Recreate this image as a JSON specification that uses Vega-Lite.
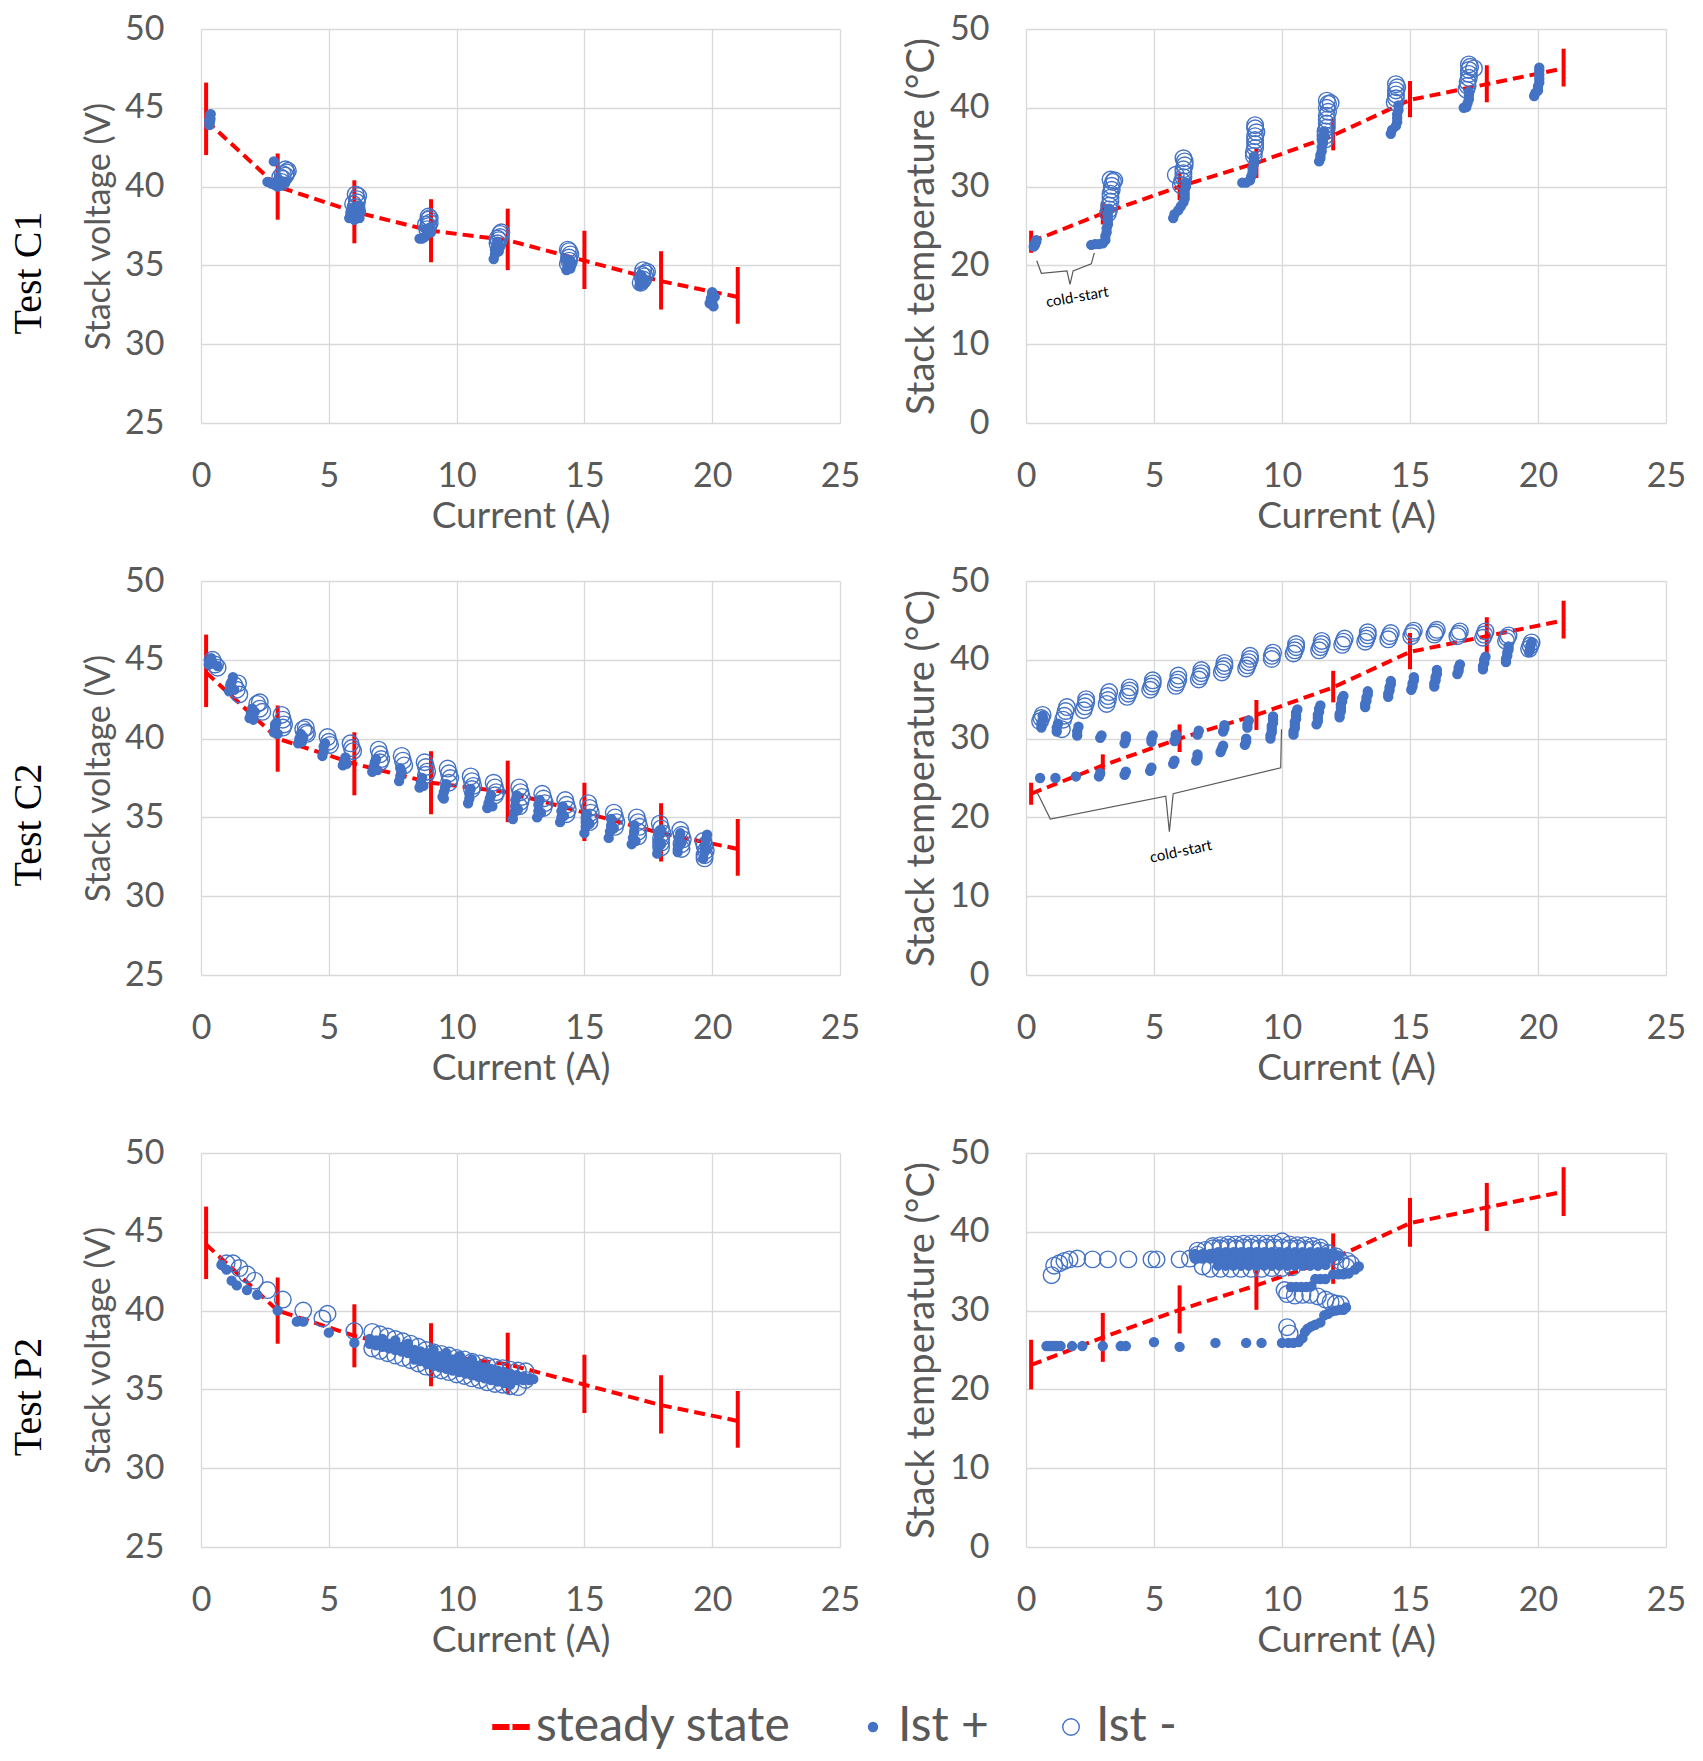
{
  "$schema": "https://vega.github.io/schema/vega-lite/v6.json",
  "background": "#ffffff",
  "padding": {"left": 8, "top": 12, "right": 10, "bottom": 8},
  "datasets": {
    "ssv": [
      {"i": 0.2, "v": 44.2, "lo": 42.0, "hi": 46.6},
      {"i": 3, "v": 40.0, "lo": 37.9, "hi": 42.1},
      {"i": 6, "v": 38.4, "lo": 36.4, "hi": 40.4},
      {"i": 9, "v": 37.2, "lo": 35.2, "hi": 39.2},
      {"i": 12, "v": 36.6, "lo": 34.7, "hi": 38.6},
      {"i": 15, "v": 35.3, "lo": 33.5, "hi": 37.2},
      {"i": 18, "v": 34.0, "lo": 32.2, "hi": 35.9},
      {"i": 21, "v": 33.0, "lo": 31.3, "hi": 34.9}
    ],
    "sst": [
      {"i": 0.2, "v": 23.0, "lo": 21.6, "hi": 24.4},
      {"i": 3, "v": 26.6, "lo": 25.2, "hi": 28.0},
      {"i": 6, "v": 30.0, "lo": 28.3, "hi": 31.8},
      {"i": 9, "v": 33.0, "lo": 31.1, "hi": 34.9},
      {"i": 12, "v": 36.5, "lo": 34.6, "hi": 38.6},
      {"i": 15, "v": 41.0, "lo": 38.8, "hi": 43.4},
      {"i": 18, "v": 43.0, "lo": 40.7, "hi": 45.4},
      {"i": 21, "v": 45.0, "lo": 42.7, "hi": 47.5}
    ],
    "sstp": [
      {"i": 0.2, "v": 23.1, "lo": 20.0, "hi": 26.3},
      {"i": 3, "v": 26.6, "lo": 23.5, "hi": 29.7},
      {"i": 6, "v": 30.1, "lo": 27.1, "hi": 33.2},
      {"i": 9, "v": 33.2, "lo": 30.1, "hi": 36.6},
      {"i": 12, "v": 36.6, "lo": 33.4, "hi": 39.8},
      {"i": 15, "v": 41.1, "lo": 38.1, "hi": 44.3},
      {"i": 18, "v": 43.1, "lo": 40.1, "hi": 46.2},
      {"i": 21, "v": 45.1, "lo": 42.0, "hi": 48.2}
    ],
    "brace1": [
      {"k": 1, "i": 0.42, "v": 20.6},
      {"k": 2, "i": 0.6, "v": 19.0},
      {"k": 3, "i": 1.6, "v": 19.3},
      {"k": 4, "i": 1.72, "v": 17.6},
      {"k": 5, "i": 1.84, "v": 19.3},
      {"k": 6, "i": 2.55, "v": 20.2},
      {"k": 7, "i": 2.67, "v": 21.6}
    ],
    "brace2": [
      {"k": 1, "i": 0.42, "v": 23.3},
      {"k": 2, "i": 0.95, "v": 19.8},
      {"k": 3, "i": 5.46, "v": 22.7},
      {"k": 4, "i": 5.6, "v": 18.2},
      {"k": 5, "i": 5.75, "v": 23.0},
      {"k": 6, "i": 9.95, "v": 26.3},
      {"k": 7, "i": 9.98, "v": 31.2}
    ],
    "note1": [{"i": 2.0, "v": 16.0, "t": "cold-start"}],
    "note2": [{"i": 6.05, "v": 15.7, "t": "cold-start"}],
    "c1v": [
      {"s":"Ist -","i":3.15,"v":40.3},{"s":"Ist -","i":3.2,"v":40.5},{"s":"Ist -","i":3.3,"v":40.7},{"s":"Ist -","i":3.35,"v":40.9},{"s":"Ist -","i":3.4,"v":41.0},{"s":"Ist -","i":3.3,"v":41.1},{"s":"Ist -","i":3.2,"v":40.8},{"s":"Ist -","i":3.1,"v":40.6},
      {"s":"Ist -","i":6.0,"v":38.4},{"s":"Ist -","i":6.05,"v":38.7},{"s":"Ist -","i":6.1,"v":39.0},{"s":"Ist -","i":6.1,"v":39.2},{"s":"Ist -","i":6.15,"v":39.4},{"s":"Ist -","i":6.05,"v":39.5},{"s":"Ist -","i":5.95,"v":38.9},{"s":"Ist -","i":6.1,"v":38.5},
      {"s":"Ist -","i":8.85,"v":37.3},{"s":"Ist -","i":8.9,"v":37.5},{"s":"Ist -","i":8.95,"v":37.7},{"s":"Ist -","i":8.9,"v":37.9},{"s":"Ist -","i":8.95,"v":38.0},{"s":"Ist -","i":8.9,"v":38.1},{"s":"Ist -","i":8.8,"v":37.6},
      {"s":"Ist -","i":11.6,"v":36.4},{"s":"Ist -","i":11.65,"v":36.6},{"s":"Ist -","i":11.7,"v":36.8},{"s":"Ist -","i":11.7,"v":37.0},{"s":"Ist -","i":11.75,"v":37.1},{"s":"Ist -","i":11.6,"v":36.7},
      {"s":"Ist -","i":14.35,"v":35.1},{"s":"Ist -","i":14.4,"v":35.3},{"s":"Ist -","i":14.4,"v":35.5},{"s":"Ist -","i":14.45,"v":35.7},{"s":"Ist -","i":14.4,"v":35.9},{"s":"Ist -","i":14.35,"v":36.0},
      {"s":"Ist -","i":17.2,"v":33.9},{"s":"Ist -","i":17.3,"v":34.1},{"s":"Ist -","i":17.35,"v":34.3},{"s":"Ist -","i":17.4,"v":34.5},{"s":"Ist -","i":17.3,"v":34.7},{"s":"Ist -","i":17.45,"v":34.6},{"s":"Ist -","i":17.25,"v":34.4},
      {"s":"Ist +","i":0.33,"v":43.9},{"s":"Ist +","i":0.35,"v":44.1},{"s":"Ist +","i":0.37,"v":44.3},{"s":"Ist +","i":0.35,"v":44.5},{"s":"Ist +","i":0.38,"v":44.6},{"s":"Ist +","i":0.32,"v":44.2},
      {"s":"Ist +","i":2.6,"v":40.3},{"s":"Ist +","i":2.75,"v":40.2},{"s":"Ist +","i":2.9,"v":40.1},{"s":"Ist +","i":3.0,"v":40.0},{"s":"Ist +","i":3.1,"v":40.1},{"s":"Ist +","i":3.2,"v":40.2},{"s":"Ist +","i":3.3,"v":40.3},{"s":"Ist +","i":3.0,"v":40.4},{"s":"Ist +","i":2.85,"v":41.6},
      {"s":"Ist +","i":5.8,"v":38.0},{"s":"Ist +","i":5.85,"v":38.3},{"s":"Ist +","i":5.9,"v":38.6},{"s":"Ist +","i":6.0,"v":37.9},{"s":"Ist +","i":6.05,"v":38.2},{"s":"Ist +","i":6.1,"v":38.5},{"s":"Ist +","i":6.15,"v":38.8},{"s":"Ist +","i":6.2,"v":38.0},{"s":"Ist +","i":6.25,"v":38.4},
      {"s":"Ist +","i":8.55,"v":36.7},{"s":"Ist +","i":8.65,"v":36.7},{"s":"Ist +","i":8.75,"v":36.8},{"s":"Ist +","i":8.85,"v":37.0},{"s":"Ist +","i":8.9,"v":37.2},{"s":"Ist +","i":8.95,"v":37.4},{"s":"Ist +","i":8.8,"v":37.3},{"s":"Ist +","i":9.0,"v":37.1},
      {"s":"Ist +","i":11.45,"v":35.4},{"s":"Ist +","i":11.5,"v":35.7},{"s":"Ist +","i":11.5,"v":36.0},{"s":"Ist +","i":11.55,"v":36.3},{"s":"Ist +","i":11.6,"v":36.5},{"s":"Ist +","i":11.65,"v":35.9},{"s":"Ist +","i":11.7,"v":36.2},
      {"s":"Ist +","i":14.3,"v":34.7},{"s":"Ist +","i":14.35,"v":35.0},{"s":"Ist +","i":14.4,"v":35.3},{"s":"Ist +","i":14.45,"v":34.8},{"s":"Ist +","i":14.5,"v":35.1},{"s":"Ist +","i":14.3,"v":35.4},
      {"s":"Ist +","i":17.15,"v":33.7},{"s":"Ist +","i":17.2,"v":34.0},{"s":"Ist +","i":17.25,"v":34.3},{"s":"Ist +","i":17.3,"v":33.8},{"s":"Ist +","i":17.35,"v":34.1},{"s":"Ist +","i":17.2,"v":34.4},
      {"s":"Ist +","i":19.9,"v":32.6},{"s":"Ist +","i":19.95,"v":32.9},{"s":"Ist +","i":20.0,"v":33.2},{"s":"Ist +","i":20.05,"v":32.4},{"s":"Ist +","i":20.0,"v":32.7},{"s":"Ist +","i":20.1,"v":33.0},{"s":"Ist +","i":20.0,"v":33.3}
    ],
    "c1t": [
      {"s":"Ist -","i":3.2,"v":26.6},{"s":"Ist -","i":3.25,"v":27.1},{"s":"Ist -","i":3.25,"v":27.6},{"s":"Ist -","i":3.3,"v":28.1},{"s":"Ist -","i":3.3,"v":28.6},{"s":"Ist -","i":3.3,"v":29.1},{"s":"Ist -","i":3.35,"v":29.6},{"s":"Ist -","i":3.35,"v":30.1},{"s":"Ist -","i":3.4,"v":30.6},{"s":"Ist -","i":3.3,"v":30.9},{"s":"Ist -","i":3.45,"v":30.8},
      {"s":"Ist -","i":6.05,"v":30.2},{"s":"Ist -","i":6.1,"v":30.7},{"s":"Ist -","i":6.15,"v":31.2},{"s":"Ist -","i":6.15,"v":31.7},{"s":"Ist -","i":6.15,"v":32.2},{"s":"Ist -","i":6.2,"v":32.7},{"s":"Ist -","i":6.2,"v":33.2},{"s":"Ist -","i":6.15,"v":33.6},{"s":"Ist -","i":5.85,"v":31.5},
      {"s":"Ist -","i":8.9,"v":33.9},{"s":"Ist -","i":8.9,"v":34.4},{"s":"Ist -","i":8.95,"v":34.9},{"s":"Ist -","i":8.95,"v":35.4},{"s":"Ist -","i":8.95,"v":35.9},{"s":"Ist -","i":8.95,"v":36.4},{"s":"Ist -","i":9.0,"v":36.9},{"s":"Ist -","i":8.95,"v":37.4},{"s":"Ist -","i":8.95,"v":37.8},
      {"s":"Ist -","i":11.7,"v":36.0},{"s":"Ist -","i":11.7,"v":36.5},{"s":"Ist -","i":11.7,"v":37.0},{"s":"Ist -","i":11.75,"v":37.5},{"s":"Ist -","i":11.75,"v":38.0},{"s":"Ist -","i":11.75,"v":38.5},{"s":"Ist -","i":11.75,"v":39.0},{"s":"Ist -","i":11.8,"v":39.5},{"s":"Ist -","i":11.75,"v":40.0},{"s":"Ist -","i":11.8,"v":40.5},{"s":"Ist -","i":11.9,"v":40.6},{"s":"Ist -","i":11.75,"v":40.9},
      {"s":"Ist -","i":14.4,"v":40.7},{"s":"Ist -","i":14.45,"v":41.2},{"s":"Ist -","i":14.45,"v":41.7},{"s":"Ist -","i":14.45,"v":42.2},{"s":"Ist -","i":14.5,"v":42.6},{"s":"Ist -","i":14.45,"v":43.0},
      {"s":"Ist -","i":17.2,"v":42.3},{"s":"Ist -","i":17.25,"v":42.8},{"s":"Ist -","i":17.25,"v":43.3},{"s":"Ist -","i":17.3,"v":43.8},{"s":"Ist -","i":17.3,"v":44.3},{"s":"Ist -","i":17.3,"v":44.8},{"s":"Ist -","i":17.35,"v":45.2},{"s":"Ist -","i":17.5,"v":45.0},{"s":"Ist -","i":17.3,"v":45.5},
      {"s":"Ist +","i":0.3,"v":22.4},{"s":"Ist +","i":0.35,"v":22.8},{"s":"Ist +","i":0.4,"v":23.2},{"s":"Ist +","i":0.35,"v":22.6},{"s":"Ist +","i":0.4,"v":23.0},
      {"s":"Ist +","i":2.55,"v":22.6},{"s":"Ist +","i":2.7,"v":22.7},{"s":"Ist +","i":2.85,"v":22.7},{"s":"Ist +","i":3.0,"v":22.8},{"s":"Ist +","i":3.1,"v":23.2},
      {"s":"Ist +","i":3.1,"v":23.7},{"s":"Ist +","i":3.15,"v":24.2},{"s":"Ist +","i":3.15,"v":24.7},{"s":"Ist +","i":3.2,"v":25.2},{"s":"Ist +","i":3.2,"v":25.7},{"s":"Ist +","i":3.2,"v":26.2},{"s":"Ist +","i":3.2,"v":26.7},{"s":"Ist +","i":3.25,"v":27.2},
      {"s":"Ist +","i":5.75,"v":26.0},{"s":"Ist +","i":5.8,"v":26.5},{"s":"Ist +","i":5.95,"v":27.0},{"s":"Ist +","i":6.05,"v":27.5},{"s":"Ist +","i":6.15,"v":28.0},{"s":"Ist +","i":6.2,"v":28.5},{"s":"Ist +","i":6.2,"v":29.0},{"s":"Ist +","i":6.2,"v":29.5},{"s":"Ist +","i":6.25,"v":30.0},{"s":"Ist +","i":6.25,"v":30.5},
      {"s":"Ist +","i":8.45,"v":30.5},{"s":"Ist +","i":8.6,"v":30.5},{"s":"Ist +","i":8.75,"v":30.8},{"s":"Ist +","i":8.8,"v":31.3},{"s":"Ist +","i":8.85,"v":31.8},{"s":"Ist +","i":8.85,"v":32.3},{"s":"Ist +","i":8.9,"v":32.8},{"s":"Ist +","i":8.9,"v":33.3},{"s":"Ist +","i":8.9,"v":33.8},
      {"s":"Ist +","i":11.45,"v":33.2},{"s":"Ist +","i":11.5,"v":33.6},{"s":"Ist +","i":11.5,"v":34.0},{"s":"Ist +","i":11.55,"v":34.5},{"s":"Ist +","i":11.55,"v":35.0},{"s":"Ist +","i":11.6,"v":35.5},{"s":"Ist +","i":11.6,"v":36.0},{"s":"Ist +","i":11.65,"v":36.5},{"s":"Ist +","i":11.65,"v":37.0},
      {"s":"Ist +","i":14.25,"v":36.7},{"s":"Ist +","i":14.3,"v":37.2},{"s":"Ist +","i":14.45,"v":37.7},{"s":"Ist +","i":14.5,"v":38.2},{"s":"Ist +","i":14.5,"v":38.7},{"s":"Ist +","i":14.5,"v":39.2},{"s":"Ist +","i":14.55,"v":39.7},{"s":"Ist +","i":14.55,"v":40.3},
      {"s":"Ist +","i":17.1,"v":40.0},{"s":"Ist +","i":17.2,"v":40.1},{"s":"Ist +","i":17.25,"v":40.6},{"s":"Ist +","i":17.3,"v":41.1},{"s":"Ist +","i":17.3,"v":41.6},{"s":"Ist +","i":17.3,"v":42.0},
      {"s":"Ist +","i":19.85,"v":41.5},{"s":"Ist +","i":19.9,"v":41.9},{"s":"Ist +","i":20.0,"v":42.2},{"s":"Ist +","i":20.0,"v":42.7},{"s":"Ist +","i":20.05,"v":43.2},{"s":"Ist +","i":20.05,"v":43.7},{"s":"Ist +","i":20.05,"v":44.2},{"s":"Ist +","i":20.05,"v":44.7},{"s":"Ist +","i":20.05,"v":45.1}
    ],
    "c2v": [
      {"s":"Ist -","i":0.45,"v":45.0},{"s":"Ist -","i":0.55,"v":44.7},{"s":"Ist -","i":0.65,"v":44.5},
      {"s":"Ist -","i":1.3,"v":43.4},{"s":"Ist -","i":1.4,"v":43.1},{"s":"Ist -","i":1.5,"v":42.8},{"s":"Ist -","i":1.45,"v":43.5},
      {"s":"Ist -","i":2.2,"v":42.2},{"s":"Ist -","i":2.3,"v":41.9},{"s":"Ist -","i":2.4,"v":41.7},{"s":"Ist -","i":2.3,"v":42.3},
      {"s":"Ist -","i":3.15,"v":41.5},{"s":"Ist -","i":3.2,"v":41.2},{"s":"Ist -","i":3.25,"v":40.9},{"s":"Ist -","i":3.2,"v":40.7},
      {"s":"Ist -","i":4.0,"v":40.6},{"s":"Ist -","i":4.1,"v":40.4},{"s":"Ist -","i":4.15,"v":40.3},{"s":"Ist -","i":4.1,"v":40.7},
      {"s":"Ist -","i":4.95,"v":40.1},{"s":"Ist -","i":5.0,"v":39.8},{"s":"Ist -","i":5.05,"v":39.6},
      {"s":"Ist -","i":5.85,"v":39.7},{"s":"Ist -","i":5.9,"v":39.4},{"s":"Ist -","i":5.95,"v":39.2},
      {"s":"Ist -","i":6.95,"v":39.3},{"s":"Ist -","i":7.0,"v":39.0},{"s":"Ist -","i":7.05,"v":38.7},{"s":"Ist -","i":7.0,"v":38.5},
      {"s":"Ist -","i":7.85,"v":38.9},{"s":"Ist -","i":7.9,"v":38.6},{"s":"Ist -","i":7.95,"v":38.3},
      {"s":"Ist -","i":8.75,"v":38.5},{"s":"Ist -","i":8.8,"v":38.2},{"s":"Ist -","i":8.85,"v":37.9},{"s":"Ist -","i":8.8,"v":37.7},
      {"s":"Ist -","i":9.65,"v":38.1},{"s":"Ist -","i":9.7,"v":37.8},{"s":"Ist -","i":9.75,"v":37.5},{"s":"Ist -","i":9.7,"v":37.2},
      {"s":"Ist -","i":10.55,"v":37.6},{"s":"Ist -","i":10.6,"v":37.3},{"s":"Ist -","i":10.65,"v":37.0},{"s":"Ist -","i":10.6,"v":36.8},
      {"s":"Ist -","i":11.45,"v":37.2},{"s":"Ist -","i":11.5,"v":36.9},{"s":"Ist -","i":11.55,"v":36.6},{"s":"Ist -","i":11.5,"v":36.4},
      {"s":"Ist -","i":12.45,"v":36.9},{"s":"Ist -","i":12.5,"v":36.6},{"s":"Ist -","i":12.55,"v":36.3},{"s":"Ist -","i":12.5,"v":36.0},{"s":"Ist -","i":12.45,"v":35.7},
      {"s":"Ist -","i":13.35,"v":36.5},{"s":"Ist -","i":13.4,"v":36.2},{"s":"Ist -","i":13.45,"v":35.9},{"s":"Ist -","i":13.4,"v":35.6},
      {"s":"Ist -","i":14.25,"v":36.1},{"s":"Ist -","i":14.3,"v":35.8},{"s":"Ist -","i":14.35,"v":35.5},{"s":"Ist -","i":14.3,"v":35.2},
      {"s":"Ist -","i":15.15,"v":35.9},{"s":"Ist -","i":15.2,"v":35.6},{"s":"Ist -","i":15.25,"v":35.3},{"s":"Ist -","i":15.2,"v":35.0},{"s":"Ist -","i":15.2,"v":34.7},
      {"s":"Ist -","i":16.15,"v":35.3},{"s":"Ist -","i":16.2,"v":35.0},{"s":"Ist -","i":16.25,"v":34.7},{"s":"Ist -","i":16.2,"v":34.4},
      {"s":"Ist -","i":17.05,"v":35.0},{"s":"Ist -","i":17.1,"v":34.7},{"s":"Ist -","i":17.15,"v":34.4},{"s":"Ist -","i":17.1,"v":34.1},{"s":"Ist -","i":17.1,"v":33.8},
      {"s":"Ist -","i":17.95,"v":34.6},{"s":"Ist -","i":18.0,"v":34.3},{"s":"Ist -","i":18.05,"v":34.0},{"s":"Ist -","i":18.0,"v":33.7},{"s":"Ist -","i":18.0,"v":33.4},{"s":"Ist -","i":18.0,"v":33.1},
      {"s":"Ist -","i":18.75,"v":34.2},{"s":"Ist -","i":18.8,"v":33.9},{"s":"Ist -","i":18.85,"v":33.6},{"s":"Ist -","i":18.8,"v":33.3},{"s":"Ist -","i":18.8,"v":33.0},
      {"s":"Ist -","i":19.65,"v":33.5},{"s":"Ist -","i":19.7,"v":33.2},{"s":"Ist -","i":19.75,"v":32.9},{"s":"Ist -","i":19.7,"v":32.6},{"s":"Ist -","i":19.7,"v":32.4},
      {"s":"Ist +","i":0.3,"v":44.7},{"s":"Ist +","i":0.35,"v":44.9},{"s":"Ist +","i":0.4,"v":45.1},{"s":"Ist +","i":0.45,"v":44.8},{"s":"Ist +","i":0.65,"v":44.6},
      {"s":"Ist +","i":1.1,"v":43.0},{"s":"Ist +","i":1.15,"v":43.3},{"s":"Ist +","i":1.2,"v":43.6},{"s":"Ist +","i":1.25,"v":43.9},{"s":"Ist +","i":1.3,"v":43.1},
      {"s":"Ist +","i":1.9,"v":41.3},{"s":"Ist +","i":1.95,"v":41.6},{"s":"Ist +","i":2.0,"v":41.9},{"s":"Ist +","i":2.05,"v":41.2},{"s":"Ist +","i":2.1,"v":41.7},
      {"s":"Ist +","i":2.85,"v":40.4},{"s":"Ist +","i":2.9,"v":40.7},{"s":"Ist +","i":2.95,"v":41.0},{"s":"Ist +","i":3.0,"v":40.3},{"s":"Ist +","i":2.9,"v":40.9},
      {"s":"Ist +","i":3.8,"v":39.7},{"s":"Ist +","i":3.85,"v":40.0},{"s":"Ist +","i":3.9,"v":40.3},{"s":"Ist +","i":3.95,"v":39.8},{"s":"Ist +","i":4.0,"v":40.1},
      {"s":"Ist +","i":4.75,"v":38.9},{"s":"Ist +","i":4.8,"v":39.2},{"s":"Ist +","i":4.8,"v":39.5},{"s":"Ist +","i":4.85,"v":39.7},
      {"s":"Ist +","i":5.55,"v":38.3},{"s":"Ist +","i":5.6,"v":38.6},{"s":"Ist +","i":5.65,"v":38.8},{"s":"Ist +","i":5.7,"v":38.4},
      {"s":"Ist +","i":6.7,"v":37.9},{"s":"Ist +","i":6.75,"v":38.2},{"s":"Ist +","i":6.8,"v":38.5},{"s":"Ist +","i":6.85,"v":38.7},{"s":"Ist +","i":6.9,"v":38.0},
      {"s":"Ist +","i":7.75,"v":37.3},{"s":"Ist +","i":7.8,"v":37.6},{"s":"Ist +","i":7.85,"v":37.9},{"s":"Ist +","i":7.8,"v":38.1},
      {"s":"Ist +","i":8.55,"v":36.9},{"s":"Ist +","i":8.6,"v":37.2},{"s":"Ist +","i":8.65,"v":37.5},{"s":"Ist +","i":8.7,"v":37.0},
      {"s":"Ist +","i":9.45,"v":36.3},{"s":"Ist +","i":9.5,"v":36.6},{"s":"Ist +","i":9.55,"v":36.9},{"s":"Ist +","i":9.6,"v":37.1},{"s":"Ist +","i":9.5,"v":36.2},
      {"s":"Ist +","i":10.45,"v":35.9},{"s":"Ist +","i":10.5,"v":36.2},{"s":"Ist +","i":10.5,"v":36.5},{"s":"Ist +","i":10.55,"v":36.8},
      {"s":"Ist +","i":11.2,"v":35.6},{"s":"Ist +","i":11.25,"v":35.9},{"s":"Ist +","i":11.3,"v":36.2},{"s":"Ist +","i":11.35,"v":36.4},{"s":"Ist +","i":11.4,"v":35.7},
      {"s":"Ist +","i":12.2,"v":34.9},{"s":"Ist +","i":12.25,"v":35.3},{"s":"Ist +","i":12.3,"v":35.7},{"s":"Ist +","i":12.3,"v":36.1},{"s":"Ist +","i":12.35,"v":36.4},{"s":"Ist +","i":12.4,"v":35.5},
      {"s":"Ist +","i":13.15,"v":35.0},{"s":"Ist +","i":13.2,"v":35.4},{"s":"Ist +","i":13.2,"v":35.8},{"s":"Ist +","i":13.25,"v":36.1},{"s":"Ist +","i":13.3,"v":35.3},
      {"s":"Ist +","i":14.05,"v":34.7},{"s":"Ist +","i":14.1,"v":35.0},{"s":"Ist +","i":14.1,"v":35.4},{"s":"Ist +","i":14.15,"v":35.7},{"s":"Ist +","i":14.2,"v":35.1},
      {"s":"Ist +","i":15.0,"v":34.0},{"s":"Ist +","i":15.05,"v":34.4},{"s":"Ist +","i":15.1,"v":34.8},{"s":"Ist +","i":15.1,"v":35.2},{"s":"Ist +","i":15.2,"v":34.6},
      {"s":"Ist +","i":15.95,"v":33.7},{"s":"Ist +","i":16.0,"v":34.1},{"s":"Ist +","i":16.05,"v":34.5},{"s":"Ist +","i":16.05,"v":34.9},{"s":"Ist +","i":16.15,"v":34.3},
      {"s":"Ist +","i":16.85,"v":33.3},{"s":"Ist +","i":16.9,"v":33.7},{"s":"Ist +","i":16.95,"v":34.1},{"s":"Ist +","i":16.95,"v":34.5},{"s":"Ist +","i":17.0,"v":33.5},
      {"s":"Ist +","i":17.85,"v":32.7},{"s":"Ist +","i":17.9,"v":33.1},{"s":"Ist +","i":17.9,"v":33.5},{"s":"Ist +","i":17.95,"v":33.9},{"s":"Ist +","i":18.0,"v":34.2},{"s":"Ist +","i":18.0,"v":33.3},
      {"s":"Ist +","i":18.65,"v":32.8},{"s":"Ist +","i":18.7,"v":33.2},{"s":"Ist +","i":18.7,"v":33.6},{"s":"Ist +","i":18.75,"v":34.0},{"s":"Ist +","i":18.8,"v":33.4},
      {"s":"Ist +","i":19.65,"v":32.4},{"s":"Ist +","i":19.7,"v":32.8},{"s":"Ist +","i":19.7,"v":33.2},{"s":"Ist +","i":19.75,"v":33.6},{"s":"Ist +","i":19.8,"v":33.9},{"s":"Ist +","i":19.8,"v":33.0}
    ],
    "c2t": [
      {"s":"Ist -","i":0.55,"v":32.2},{"s":"Ist -","i":0.6,"v":32.6},{"s":"Ist -","i":0.65,"v":33.0},
      {"s":"Ist -","i":1.4,"v":31.2},{"s":"Ist -","i":1.45,"v":32.4},{"s":"Ist -","i":1.5,"v":32.9},{"s":"Ist -","i":1.55,"v":33.5},{"s":"Ist -","i":1.6,"v":34.0},
      {"s":"Ist -","i":2.25,"v":33.6},{"s":"Ist -","i":2.3,"v":34.1},{"s":"Ist -","i":2.35,"v":34.6},{"s":"Ist -","i":2.35,"v":35.0},
      {"s":"Ist -","i":3.15,"v":34.4},{"s":"Ist -","i":3.2,"v":34.9},{"s":"Ist -","i":3.2,"v":35.4},{"s":"Ist -","i":3.25,"v":35.9},
      {"s":"Ist -","i":3.95,"v":35.3},{"s":"Ist -","i":4.0,"v":35.7},{"s":"Ist -","i":4.05,"v":36.1},{"s":"Ist -","i":4.05,"v":36.5},
      {"s":"Ist -","i":4.85,"v":36.2},{"s":"Ist -","i":4.9,"v":36.6},{"s":"Ist -","i":4.95,"v":37.0},{"s":"Ist -","i":4.95,"v":37.4},
      {"s":"Ist -","i":5.85,"v":36.7},{"s":"Ist -","i":5.9,"v":37.1},{"s":"Ist -","i":5.95,"v":37.5},{"s":"Ist -","i":5.95,"v":38.0},
      {"s":"Ist -","i":6.75,"v":37.5},{"s":"Ist -","i":6.8,"v":37.9},{"s":"Ist -","i":6.85,"v":38.3},{"s":"Ist -","i":6.85,"v":38.7},
      {"s":"Ist -","i":7.65,"v":38.4},{"s":"Ist -","i":7.7,"v":38.8},{"s":"Ist -","i":7.75,"v":39.2},{"s":"Ist -","i":7.75,"v":39.6},
      {"s":"Ist -","i":8.6,"v":38.9},{"s":"Ist -","i":8.65,"v":39.3},{"s":"Ist -","i":8.7,"v":39.7},{"s":"Ist -","i":8.75,"v":40.1},{"s":"Ist -","i":8.75,"v":40.5},
      {"s":"Ist -","i":9.6,"v":40.1},{"s":"Ist -","i":9.6,"v":40.5},{"s":"Ist -","i":9.65,"v":40.9},
      {"s":"Ist -","i":10.45,"v":40.8},{"s":"Ist -","i":10.5,"v":41.2},{"s":"Ist -","i":10.55,"v":41.6},{"s":"Ist -","i":10.55,"v":42.0},
      {"s":"Ist -","i":11.45,"v":41.2},{"s":"Ist -","i":11.5,"v":41.6},{"s":"Ist -","i":11.55,"v":42.0},{"s":"Ist -","i":11.55,"v":42.4},
      {"s":"Ist -","i":12.35,"v":41.9},{"s":"Ist -","i":12.4,"v":42.3},{"s":"Ist -","i":12.45,"v":42.7},
      {"s":"Ist -","i":13.25,"v":42.3},{"s":"Ist -","i":13.3,"v":42.7},{"s":"Ist -","i":13.35,"v":43.1},{"s":"Ist -","i":13.35,"v":43.5},
      {"s":"Ist -","i":14.15,"v":42.6},{"s":"Ist -","i":14.2,"v":43.0},{"s":"Ist -","i":14.25,"v":43.4},
      {"s":"Ist -","i":15.05,"v":43.0},{"s":"Ist -","i":15.1,"v":43.4},{"s":"Ist -","i":15.15,"v":43.7},
      {"s":"Ist -","i":15.95,"v":43.2},{"s":"Ist -","i":16.0,"v":43.5},{"s":"Ist -","i":16.05,"v":43.8},
      {"s":"Ist -","i":16.85,"v":43.0},{"s":"Ist -","i":16.9,"v":43.3},{"s":"Ist -","i":16.95,"v":43.6},
      {"s":"Ist -","i":17.85,"v":42.8},{"s":"Ist -","i":17.9,"v":43.2},{"s":"Ist -","i":17.95,"v":43.6},
      {"s":"Ist -","i":18.75,"v":42.4},{"s":"Ist -","i":18.8,"v":42.8},{"s":"Ist -","i":18.85,"v":43.1},
      {"s":"Ist -","i":19.65,"v":41.4},{"s":"Ist -","i":19.7,"v":41.8},{"s":"Ist -","i":19.75,"v":42.2},
      {"s":"Ist +","i":0.55,"v":25.0},{"s":"Ist +","i":0.6,"v":31.4},{"s":"Ist +","i":0.6,"v":31.9},{"s":"Ist +","i":0.65,"v":32.4},{"s":"Ist +","i":0.65,"v":32.9},
      {"s":"Ist +","i":1.15,"v":25.0},{"s":"Ist +","i":1.2,"v":30.9},{"s":"Ist +","i":1.2,"v":31.4},{"s":"Ist +","i":1.25,"v":31.9},
      {"s":"Ist +","i":1.95,"v":25.2},{"s":"Ist +","i":2.0,"v":30.4},{"s":"Ist +","i":2.0,"v":30.9},{"s":"Ist +","i":2.05,"v":31.5},
      {"s":"Ist +","i":2.85,"v":25.2},{"s":"Ist +","i":2.9,"v":25.6},{"s":"Ist +","i":2.9,"v":30.1},{"s":"Ist +","i":2.95,"v":30.4},
      {"s":"Ist +","i":3.85,"v":25.4},{"s":"Ist +","i":3.9,"v":25.8},{"s":"Ist +","i":3.85,"v":29.4},{"s":"Ist +","i":3.9,"v":29.9},{"s":"Ist +","i":3.9,"v":30.3},
      {"s":"Ist +","i":4.85,"v":25.9},{"s":"Ist +","i":4.9,"v":26.3},{"s":"Ist +","i":4.9,"v":29.6},{"s":"Ist +","i":4.9,"v":30.0},{"s":"Ist +","i":4.95,"v":30.4},
      {"s":"Ist +","i":5.75,"v":26.8},{"s":"Ist +","i":5.8,"v":27.2},{"s":"Ist +","i":5.8,"v":29.7},{"s":"Ist +","i":5.85,"v":30.1},{"s":"Ist +","i":5.85,"v":30.5},
      {"s":"Ist +","i":6.65,"v":27.2},{"s":"Ist +","i":6.7,"v":27.6},{"s":"Ist +","i":6.7,"v":28.0},{"s":"Ist +","i":6.7,"v":30.5},{"s":"Ist +","i":6.75,"v":31.0},
      {"s":"Ist +","i":7.6,"v":28.3},{"s":"Ist +","i":7.65,"v":28.7},{"s":"Ist +","i":7.7,"v":29.1},{"s":"Ist +","i":7.7,"v":30.9},{"s":"Ist +","i":7.75,"v":31.3},{"s":"Ist +","i":7.75,"v":31.7},
      {"s":"Ist +","i":8.55,"v":29.2},{"s":"Ist +","i":8.6,"v":29.6},{"s":"Ist +","i":8.6,"v":30.0},{"s":"Ist +","i":8.65,"v":31.4},{"s":"Ist +","i":8.65,"v":31.8},{"s":"Ist +","i":8.7,"v":32.3},
      {"s":"Ist +","i":9.55,"v":30.0},{"s":"Ist +","i":9.55,"v":30.4},{"s":"Ist +","i":9.6,"v":30.8},{"s":"Ist +","i":9.6,"v":31.2},{"s":"Ist +","i":9.6,"v":31.6},{"s":"Ist +","i":9.65,"v":32.0},{"s":"Ist +","i":9.65,"v":32.4},{"s":"Ist +","i":9.65,"v":32.8},
      {"s":"Ist +","i":10.45,"v":30.5},{"s":"Ist +","i":10.45,"v":30.9},{"s":"Ist +","i":10.5,"v":31.3},{"s":"Ist +","i":10.5,"v":31.7},{"s":"Ist +","i":10.5,"v":32.1},{"s":"Ist +","i":10.55,"v":32.5},{"s":"Ist +","i":10.55,"v":32.9},{"s":"Ist +","i":10.55,"v":33.3},{"s":"Ist +","i":10.6,"v":33.7},
      {"s":"Ist +","i":11.35,"v":31.8},{"s":"Ist +","i":11.4,"v":32.2},{"s":"Ist +","i":11.4,"v":32.6},{"s":"Ist +","i":11.4,"v":33.0},{"s":"Ist +","i":11.45,"v":33.4},{"s":"Ist +","i":11.45,"v":33.8},{"s":"Ist +","i":11.5,"v":34.2},
      {"s":"Ist +","i":12.25,"v":32.7},{"s":"Ist +","i":12.25,"v":33.1},{"s":"Ist +","i":12.3,"v":33.5},{"s":"Ist +","i":12.3,"v":33.9},{"s":"Ist +","i":12.3,"v":34.3},{"s":"Ist +","i":12.35,"v":34.7},{"s":"Ist +","i":12.35,"v":35.1},{"s":"Ist +","i":12.4,"v":35.4},
      {"s":"Ist +","i":13.25,"v":34.0},{"s":"Ist +","i":13.25,"v":34.4},{"s":"Ist +","i":13.3,"v":34.8},{"s":"Ist +","i":13.3,"v":35.2},{"s":"Ist +","i":13.35,"v":35.6},{"s":"Ist +","i":13.35,"v":36.0},
      {"s":"Ist +","i":14.15,"v":35.3},{"s":"Ist +","i":14.15,"v":35.7},{"s":"Ist +","i":14.2,"v":36.1},{"s":"Ist +","i":14.2,"v":36.5},{"s":"Ist +","i":14.25,"v":36.9},{"s":"Ist +","i":14.25,"v":37.3},
      {"s":"Ist +","i":15.05,"v":36.2},{"s":"Ist +","i":15.1,"v":36.6},{"s":"Ist +","i":15.1,"v":37.0},{"s":"Ist +","i":15.15,"v":37.4},{"s":"Ist +","i":15.15,"v":37.8},
      {"s":"Ist +","i":15.95,"v":36.6},{"s":"Ist +","i":15.95,"v":37.0},{"s":"Ist +","i":16.0,"v":37.4},{"s":"Ist +","i":16.0,"v":37.8},{"s":"Ist +","i":16.05,"v":38.2},{"s":"Ist +","i":16.05,"v":38.7},
      {"s":"Ist +","i":16.85,"v":38.2},{"s":"Ist +","i":16.9,"v":38.6},{"s":"Ist +","i":16.9,"v":39.0},{"s":"Ist +","i":16.95,"v":39.4},
      {"s":"Ist +","i":17.85,"v":38.8},{"s":"Ist +","i":17.85,"v":39.2},{"s":"Ist +","i":17.9,"v":39.6},{"s":"Ist +","i":17.9,"v":40.0},{"s":"Ist +","i":17.95,"v":40.4},
      {"s":"Ist +","i":18.75,"v":39.7},{"s":"Ist +","i":18.75,"v":40.1},{"s":"Ist +","i":18.8,"v":40.5},{"s":"Ist +","i":18.8,"v":40.9},{"s":"Ist +","i":18.85,"v":41.3},{"s":"Ist +","i":18.85,"v":41.7},
      {"s":"Ist +","i":19.65,"v":41.0},{"s":"Ist +","i":19.7,"v":41.4},{"s":"Ist +","i":19.7,"v":41.8},{"s":"Ist +","i":19.75,"v":42.2}
    ],
    "p2v": [
      {"s":"Ist -","i":1.0,"v":43.0},{"s":"Ist -","i":1.25,"v":43.0},{"s":"Ist -","i":1.5,"v":42.7},{"s":"Ist -","i":1.8,"v":42.3},{"s":"Ist -","i":2.1,"v":41.9},{"s":"Ist -","i":2.6,"v":41.3},{"s":"Ist -","i":3.2,"v":40.7},{"s":"Ist -","i":4.0,"v":40.0},{"s":"Ist -","i":4.75,"v":39.5},{"s":"Ist -","i":4.95,"v":39.8},{"s":"Ist -","i":6.0,"v":38.7},
      {"s":"Ist -","i":6.7,"v":38.65},{"s":"Ist -","i":6.7,"v":37.6},{"s":"Ist -","i":7.0,"v":38.5},{"s":"Ist -","i":7.0,"v":37.45},{"s":"Ist -","i":7.3,"v":38.35},{"s":"Ist -","i":7.3,"v":37.3},
      {"s":"Ist -","i":7.6,"v":38.2},{"s":"Ist -","i":7.6,"v":37.15},{"s":"Ist -","i":7.9,"v":38.05},{"s":"Ist -","i":7.9,"v":37.0},{"s":"Ist -","i":8.2,"v":37.9},{"s":"Ist -","i":8.2,"v":36.85},
      {"s":"Ist -","i":8.5,"v":37.7},{"s":"Ist -","i":8.5,"v":36.65},{"s":"Ist -","i":8.8,"v":37.5},{"s":"Ist -","i":8.8,"v":36.45},{"s":"Ist -","i":9.1,"v":37.35},{"s":"Ist -","i":9.1,"v":36.3},
      {"s":"Ist -","i":9.4,"v":37.25},{"s":"Ist -","i":9.4,"v":36.2},{"s":"Ist -","i":9.7,"v":37.15},{"s":"Ist -","i":9.7,"v":36.1},{"s":"Ist -","i":10.0,"v":37.0},{"s":"Ist -","i":10.0,"v":35.95},
      {"s":"Ist -","i":10.3,"v":36.9},{"s":"Ist -","i":10.3,"v":35.85},{"s":"Ist -","i":10.6,"v":36.75},{"s":"Ist -","i":10.6,"v":35.7},{"s":"Ist -","i":10.9,"v":36.65},{"s":"Ist -","i":10.9,"v":35.6},
      {"s":"Ist -","i":11.2,"v":36.5},{"s":"Ist -","i":11.2,"v":35.45},{"s":"Ist -","i":11.5,"v":36.4},{"s":"Ist -","i":11.5,"v":35.35},{"s":"Ist -","i":11.8,"v":36.35},{"s":"Ist -","i":11.8,"v":35.3},
      {"s":"Ist -","i":12.1,"v":36.25},{"s":"Ist -","i":12.1,"v":35.2},{"s":"Ist -","i":12.4,"v":36.2},{"s":"Ist -","i":12.4,"v":35.15},{"s":"Ist -","i":12.7,"v":36.15},{"s":"Ist -","i":12.7,"v":35.6},
      {"s":"Ist +","i":0.8,"v":42.9},{"s":"Ist +","i":1.0,"v":42.6},{"s":"Ist +","i":1.2,"v":41.9},{"s":"Ist +","i":1.4,"v":41.6},{"s":"Ist +","i":1.8,"v":41.3},{"s":"Ist +","i":2.2,"v":41.0},{"s":"Ist +","i":3.0,"v":40.0},{"s":"Ist +","i":3.75,"v":39.3},{"s":"Ist +","i":4.0,"v":39.3},{"s":"Ist +","i":5.0,"v":38.6},{"s":"Ist +","i":6.0,"v":37.95},
      {"s":"Ist +","i":6.6,"v":38.2},{"s":"Ist +","i":6.6,"v":37.9},{"s":"Ist +","i":6.85,"v":38.1},{"s":"Ist +","i":6.85,"v":37.8},
      {"s":"Ist +","i":7.1,"v":38.0},{"s":"Ist +","i":7.1,"v":37.7},{"s":"Ist +","i":7.1,"v":38.2},{"s":"Ist +","i":7.35,"v":37.9},{"s":"Ist +","i":7.35,"v":37.6},
      {"s":"Ist +","i":7.6,"v":37.8},{"s":"Ist +","i":7.6,"v":37.5},{"s":"Ist +","i":7.6,"v":38.1},{"s":"Ist +","i":7.85,"v":37.7},{"s":"Ist +","i":7.85,"v":37.4},
      {"s":"Ist +","i":8.1,"v":37.6},{"s":"Ist +","i":8.1,"v":37.3},{"s":"Ist +","i":8.1,"v":37.9},{"s":"Ist +","i":8.35,"v":37.5},{"s":"Ist +","i":8.35,"v":37.1},{"s":"Ist +","i":8.35,"v":36.9},
      {"s":"Ist +","i":8.6,"v":37.4},{"s":"Ist +","i":8.6,"v":37.0},{"s":"Ist +","i":8.6,"v":36.8},{"s":"Ist +","i":8.85,"v":37.3},{"s":"Ist +","i":8.85,"v":36.9},{"s":"Ist +","i":8.85,"v":36.6},
      {"s":"Ist +","i":9.1,"v":37.2},{"s":"Ist +","i":9.1,"v":36.8},{"s":"Ist +","i":9.1,"v":36.5},{"s":"Ist +","i":9.1,"v":37.5},{"s":"Ist +","i":9.35,"v":37.1},{"s":"Ist +","i":9.35,"v":36.7},{"s":"Ist +","i":9.35,"v":36.4},
      {"s":"Ist +","i":9.6,"v":37.0},{"s":"Ist +","i":9.6,"v":36.6},{"s":"Ist +","i":9.6,"v":36.3},{"s":"Ist +","i":9.6,"v":37.3},{"s":"Ist +","i":9.85,"v":36.9},{"s":"Ist +","i":9.85,"v":36.5},{"s":"Ist +","i":9.85,"v":36.2},
      {"s":"Ist +","i":10.1,"v":36.8},{"s":"Ist +","i":10.1,"v":36.4},{"s":"Ist +","i":10.1,"v":36.1},{"s":"Ist +","i":10.1,"v":37.1},{"s":"Ist +","i":10.35,"v":36.7},{"s":"Ist +","i":10.35,"v":36.3},{"s":"Ist +","i":10.35,"v":36.0},
      {"s":"Ist +","i":10.6,"v":36.6},{"s":"Ist +","i":10.6,"v":36.2},{"s":"Ist +","i":10.6,"v":35.9},{"s":"Ist +","i":10.6,"v":36.9},{"s":"Ist +","i":10.85,"v":36.5},{"s":"Ist +","i":10.85,"v":36.1},{"s":"Ist +","i":10.85,"v":35.8},
      {"s":"Ist +","i":11.1,"v":36.4},{"s":"Ist +","i":11.1,"v":36.0},{"s":"Ist +","i":11.1,"v":35.7},{"s":"Ist +","i":11.35,"v":36.3},{"s":"Ist +","i":11.35,"v":35.9},{"s":"Ist +","i":11.35,"v":35.6},
      {"s":"Ist +","i":11.6,"v":36.2},{"s":"Ist +","i":11.6,"v":35.8},{"s":"Ist +","i":11.6,"v":35.5},{"s":"Ist +","i":11.85,"v":36.1},{"s":"Ist +","i":11.85,"v":35.7},{"s":"Ist +","i":11.85,"v":35.4},
      {"s":"Ist +","i":12.1,"v":36.0},{"s":"Ist +","i":12.1,"v":35.6},{"s":"Ist +","i":12.1,"v":35.3},{"s":"Ist +","i":12.35,"v":35.9},{"s":"Ist +","i":12.35,"v":35.6},
      {"s":"Ist +","i":12.6,"v":35.8},{"s":"Ist +","i":12.6,"v":35.6},{"s":"Ist +","i":12.85,"v":35.7},{"s":"Ist +","i":12.85,"v":35.6},{"s":"Ist +","i":13.0,"v":35.65}
    ],
    "p2t": [
      {"s":"Ist -","i":1.0,"v":34.5},{"s":"Ist -","i":1.1,"v":35.7},{"s":"Ist -","i":1.3,"v":36.0},{"s":"Ist -","i":1.5,"v":36.3},{"s":"Ist -","i":1.7,"v":36.5},{"s":"Ist -","i":2.0,"v":36.6},{"s":"Ist -","i":2.6,"v":36.5},{"s":"Ist -","i":3.2,"v":36.5},{"s":"Ist -","i":4.0,"v":36.5},{"s":"Ist -","i":4.9,"v":36.5},{"s":"Ist -","i":5.1,"v":36.5},{"s":"Ist -","i":6.0,"v":36.5},{"s":"Ist -","i":6.4,"v":36.6},
      {"s":"Ist -","i":6.7,"v":37.1},{"s":"Ist -","i":6.7,"v":37.6},{"s":"Ist -","i":7.0,"v":37.7},{"s":"Ist -","i":7.3,"v":37.9},{"s":"Ist -","i":7.3,"v":38.2},{"s":"Ist -","i":7.6,"v":37.9},{"s":"Ist -","i":7.6,"v":38.3},
      {"s":"Ist -","i":7.9,"v":38.0},{"s":"Ist -","i":7.9,"v":38.4},{"s":"Ist -","i":8.2,"v":37.9},{"s":"Ist -","i":8.2,"v":38.4},{"s":"Ist -","i":8.5,"v":38.0},{"s":"Ist -","i":8.5,"v":38.5},
      {"s":"Ist -","i":8.8,"v":38.0},{"s":"Ist -","i":8.8,"v":38.5},{"s":"Ist -","i":9.1,"v":37.9},{"s":"Ist -","i":9.1,"v":38.5},{"s":"Ist -","i":9.4,"v":38.0},{"s":"Ist -","i":9.4,"v":38.5},
      {"s":"Ist -","i":9.7,"v":38.0},{"s":"Ist -","i":9.7,"v":38.5},{"s":"Ist -","i":10.0,"v":38.0},{"s":"Ist -","i":10.0,"v":38.8},{"s":"Ist -","i":10.3,"v":37.9},{"s":"Ist -","i":10.3,"v":38.4},
      {"s":"Ist -","i":10.6,"v":37.9},{"s":"Ist -","i":10.6,"v":38.3},{"s":"Ist -","i":10.9,"v":37.8},{"s":"Ist -","i":10.9,"v":38.3},{"s":"Ist -","i":11.2,"v":37.8},{"s":"Ist -","i":11.2,"v":38.2},
      {"s":"Ist -","i":11.5,"v":37.6},{"s":"Ist -","i":11.5,"v":38.0},{"s":"Ist -","i":11.8,"v":37.3},{"s":"Ist -","i":12.1,"v":36.9},
      {"s":"Ist -","i":6.9,"v":35.6},{"s":"Ist -","i":7.2,"v":35.3},{"s":"Ist -","i":7.6,"v":35.3},{"s":"Ist -","i":8.0,"v":35.3},{"s":"Ist -","i":8.4,"v":35.3},{"s":"Ist -","i":8.8,"v":35.3},{"s":"Ist -","i":9.2,"v":35.3},{"s":"Ist -","i":9.6,"v":35.4},{"s":"Ist -","i":10.0,"v":35.4},{"s":"Ist -","i":10.4,"v":35.5},
      {"s":"Ist -","i":12.3,"v":36.2},{"s":"Ist -","i":12.55,"v":36.3},{"s":"Ist -","i":12.7,"v":35.9},{"s":"Ist -","i":12.5,"v":35.6},
      {"s":"Ist -","i":10.1,"v":32.6},{"s":"Ist -","i":10.2,"v":32.1},{"s":"Ist -","i":10.5,"v":31.9},{"s":"Ist -","i":10.8,"v":32.0},{"s":"Ist -","i":11.1,"v":32.0},{"s":"Ist -","i":11.4,"v":31.8},{"s":"Ist -","i":11.7,"v":31.4},{"s":"Ist -","i":11.9,"v":31.1},{"s":"Ist -","i":12.1,"v":30.9},{"s":"Ist -","i":12.3,"v":30.8},{"s":"Ist -","i":10.2,"v":27.9},{"s":"Ist -","i":10.3,"v":27.1},
      {"s":"Ist +","i":0.8,"v":25.5},{"s":"Ist +","i":0.9,"v":25.5},{"s":"Ist +","i":1.0,"v":25.5},{"s":"Ist +","i":1.1,"v":25.5},{"s":"Ist +","i":1.2,"v":25.5},{"s":"Ist +","i":1.35,"v":25.5},{"s":"Ist +","i":1.8,"v":25.5},{"s":"Ist +","i":2.2,"v":25.5},{"s":"Ist +","i":3.0,"v":25.5},{"s":"Ist +","i":3.7,"v":25.5},{"s":"Ist +","i":3.9,"v":25.5},{"s":"Ist +","i":5.0,"v":26.0},{"s":"Ist +","i":6.0,"v":25.4},{"s":"Ist +","i":7.4,"v":25.9},{"s":"Ist +","i":8.6,"v":25.9},{"s":"Ist +","i":9.2,"v":25.9},{"s":"Ist +","i":10.0,"v":25.9},{"s":"Ist +","i":10.25,"v":25.9},{"s":"Ist +","i":10.45,"v":25.9},{"s":"Ist +","i":10.65,"v":26.0},{"s":"Ist +","i":10.8,"v":26.5},
      {"s":"Ist +","i":10.9,"v":27.3},{"s":"Ist +","i":11.0,"v":27.7},{"s":"Ist +","i":11.15,"v":28.0},{"s":"Ist +","i":11.3,"v":28.2},{"s":"Ist +","i":11.5,"v":28.5},{"s":"Ist +","i":11.65,"v":29.4},{"s":"Ist +","i":11.8,"v":29.6},{"s":"Ist +","i":11.95,"v":29.9},{"s":"Ist +","i":12.1,"v":30.0},{"s":"Ist +","i":12.25,"v":30.1},{"s":"Ist +","i":12.4,"v":30.1},{"s":"Ist +","i":12.5,"v":30.4},
      {"s":"Ist +","i":10.35,"v":33.0},{"s":"Ist +","i":10.55,"v":33.0},{"s":"Ist +","i":10.75,"v":33.0},{"s":"Ist +","i":10.95,"v":33.0},{"s":"Ist +","i":11.15,"v":33.1},{"s":"Ist +","i":11.3,"v":34.0},{"s":"Ist +","i":11.5,"v":34.0},{"s":"Ist +","i":11.7,"v":34.0},{"s":"Ist +","i":12.0,"v":34.6},{"s":"Ist +","i":12.2,"v":34.6},{"s":"Ist +","i":12.4,"v":34.6},{"s":"Ist +","i":12.6,"v":34.7},{"s":"Ist +","i":12.85,"v":35.2},{"s":"Ist +","i":13.0,"v":35.6},
      {"s":"Ist +","i":6.6,"v":36.6},{"s":"Ist +","i":6.6,"v":37.2},{"s":"Ist +","i":6.9,"v":36.6},{"s":"Ist +","i":6.9,"v":37.2},{"s":"Ist +","i":7.2,"v":36.6},{"s":"Ist +","i":7.2,"v":37.2},
      {"s":"Ist +","i":7.5,"v":35.7},{"s":"Ist +","i":7.5,"v":36.3},{"s":"Ist +","i":7.5,"v":36.9},{"s":"Ist +","i":7.5,"v":37.4},
      {"s":"Ist +","i":7.8,"v":35.7},{"s":"Ist +","i":7.8,"v":36.3},{"s":"Ist +","i":7.8,"v":36.9},{"s":"Ist +","i":7.8,"v":37.4},
      {"s":"Ist +","i":8.1,"v":35.7},{"s":"Ist +","i":8.1,"v":36.3},{"s":"Ist +","i":8.1,"v":36.9},{"s":"Ist +","i":8.1,"v":37.4},
      {"s":"Ist +","i":8.4,"v":35.7},{"s":"Ist +","i":8.4,"v":36.3},{"s":"Ist +","i":8.4,"v":36.9},{"s":"Ist +","i":8.4,"v":37.4},
      {"s":"Ist +","i":8.7,"v":35.7},{"s":"Ist +","i":8.7,"v":36.3},{"s":"Ist +","i":8.7,"v":36.9},{"s":"Ist +","i":8.7,"v":37.4},
      {"s":"Ist +","i":9.0,"v":35.7},{"s":"Ist +","i":9.0,"v":36.3},{"s":"Ist +","i":9.0,"v":36.9},{"s":"Ist +","i":9.0,"v":37.4},
      {"s":"Ist +","i":9.3,"v":35.7},{"s":"Ist +","i":9.3,"v":36.3},{"s":"Ist +","i":9.3,"v":36.9},{"s":"Ist +","i":9.3,"v":37.4},
      {"s":"Ist +","i":9.6,"v":35.7},{"s":"Ist +","i":9.6,"v":36.3},{"s":"Ist +","i":9.6,"v":36.9},{"s":"Ist +","i":9.6,"v":37.4},
      {"s":"Ist +","i":9.9,"v":35.7},{"s":"Ist +","i":9.9,"v":36.3},{"s":"Ist +","i":9.9,"v":36.9},{"s":"Ist +","i":9.9,"v":37.4},
      {"s":"Ist +","i":10.2,"v":35.7},{"s":"Ist +","i":10.2,"v":36.3},{"s":"Ist +","i":10.2,"v":36.9},{"s":"Ist +","i":10.2,"v":37.4},
      {"s":"Ist +","i":10.5,"v":35.7},{"s":"Ist +","i":10.5,"v":36.3},{"s":"Ist +","i":10.5,"v":36.9},{"s":"Ist +","i":10.5,"v":37.4},
      {"s":"Ist +","i":10.8,"v":35.7},{"s":"Ist +","i":10.8,"v":36.3},{"s":"Ist +","i":10.8,"v":36.9},{"s":"Ist +","i":10.8,"v":37.4},
      {"s":"Ist +","i":11.1,"v":35.7},{"s":"Ist +","i":11.1,"v":36.3},{"s":"Ist +","i":11.1,"v":36.9},{"s":"Ist +","i":11.1,"v":37.4},
      {"s":"Ist +","i":11.4,"v":35.7},{"s":"Ist +","i":11.4,"v":36.3},{"s":"Ist +","i":11.4,"v":36.9},{"s":"Ist +","i":11.4,"v":37.4},
      {"s":"Ist +","i":11.7,"v":35.8},{"s":"Ist +","i":11.7,"v":36.3},{"s":"Ist +","i":11.7,"v":36.9},{"s":"Ist +","i":11.7,"v":37.4},
      {"s":"Ist +","i":12.0,"v":36.8},{"s":"Ist +","i":12.0,"v":37.3},{"s":"Ist +","i":12.2,"v":37.0}
    ]
  },
  "vconcat": [
    {
      "spacing": 30,
      "vconcat": [
        {
          "title": {"text": "Test C1", "orient": "left", "anchor": "middle", "font": "Liberation Serif", "fontSize": 40, "fontWeight": "normal", "color": "#000000", "offset": 34},
          "spacing": 43,
          "hconcat": [
            {
              "width": 639, "height": 394,
              "encoding": {"x": {"field": "i", "type": "quantitative", "title": "Current (A)", "scale": {"domain": [0, 25], "nice": false}, "axis": {"values": [0, 5, 10, 15, 20, 25]}}},
              "layer": [
                {"data": {"name": "ssv"}, "mark": {"type": "line", "color": "#FF0000", "strokeWidth": 4, "strokeDash": [11, 6]}, "encoding": {"y": {"field": "v", "type": "quantitative", "title": "Stack voltage (V)", "scale": {"domain": [25, 50], "nice": false, "zero": false}, "axis": {"values": [25, 30, 35, 40, 45, 50], "titleFontSize": 34}}}},
                {"data": {"name": "ssv"}, "mark": {"type": "rule", "color": "#FF0000", "strokeWidth": 4}, "encoding": {"y": {"field": "lo", "type": "quantitative", "title": "Stack voltage (V)"}, "y2": {"field": "hi"}}},
                {"data": {"name": "c1v"}, "mark": {"type": "point", "filled": true, "size": 1300, "strokeWidth": 1.4, "opacity": 1},
                  "encoding": {
                    "y": {"field": "v", "type": "quantitative", "title": "Stack voltage (V)"},
                    "shape": {"field": "s", "type": "nominal", "title": null, "scale": {"domain": ["steady state", "Ist +", "Ist -"], "range": ["M-1,-0.13H-0.12V0.13H-1ZM0.12,-0.13H1V0.13H0.12Z", "M0.25,0A0.25,0.25,0,1,1,-0.25,0A0.25,0.25,0,1,1,0.25,0Z", "M0.46,0A0.46,0.46,0,1,1,-0.46,0A0.46,0.46,0,1,1,0.46,0Z"]}},
                    "fill": {"field": "s", "type": "nominal", "title": null, "scale": {"domain": ["steady state", "Ist +", "Ist -"], "range": ["#FF0000", "#4472C4", "transparent"]}},
                    "stroke": {"field": "s", "type": "nominal", "title": null, "scale": {"domain": ["steady state", "Ist +", "Ist -"], "range": ["#FF0000", "#4472C4", "#4472C4"]}}
                  }}
              ]
            },
            {
              "width": 640, "height": 394,
              "encoding": {"x": {"field": "i", "type": "quantitative", "title": "Current (A)", "scale": {"domain": [0, 25], "nice": false}, "axis": {"values": [0, 5, 10, 15, 20, 25]}}},
              "layer": [
                {"data": {"name": "sst"}, "mark": {"type": "line", "color": "#FF0000", "strokeWidth": 4, "strokeDash": [11, 6]}, "encoding": {"y": {"field": "v", "type": "quantitative", "title": "Stack temperature (°C)", "scale": {"domain": [0, 50], "nice": false}, "axis": {"values": [0, 10, 20, 30, 40, 50], "titleFontSize": 38}}}},
                {"data": {"name": "sst"}, "mark": {"type": "rule", "color": "#FF0000", "strokeWidth": 4}, "encoding": {"y": {"field": "lo", "type": "quantitative", "title": "Stack temperature (°C)"}, "y2": {"field": "hi"}}},
                {"data": {"name": "c1t"}, "mark": {"type": "point", "filled": true, "size": 1300, "strokeWidth": 1.4, "opacity": 1},
                  "encoding": {
                    "y": {"field": "v", "type": "quantitative", "title": "Stack temperature (°C)"},
                    "shape": {"field": "s", "type": "nominal", "title": null, "scale": {"domain": ["steady state", "Ist +", "Ist -"], "range": ["M-1,-0.13H-0.12V0.13H-1ZM0.12,-0.13H1V0.13H0.12Z", "M0.25,0A0.25,0.25,0,1,1,-0.25,0A0.25,0.25,0,1,1,0.25,0Z", "M0.46,0A0.46,0.46,0,1,1,-0.46,0A0.46,0.46,0,1,1,0.46,0Z"]}},
                    "fill": {"field": "s", "type": "nominal", "title": null, "scale": {"domain": ["steady state", "Ist +", "Ist -"], "range": ["#FF0000", "#4472C4", "transparent"]}},
                    "stroke": {"field": "s", "type": "nominal", "title": null, "scale": {"domain": ["steady state", "Ist +", "Ist -"], "range": ["#FF0000", "#4472C4", "#4472C4"]}}
                  }},
                {"data": {"name": "brace1"}, "mark": {"type": "line", "color": "#595959", "strokeWidth": 1.2}, "encoding": {"y": {"field": "v", "type": "quantitative", "title": "Stack temperature (°C)"}, "order": {"field": "k", "type": "quantitative"}}},
                {"data": {"name": "note1"}, "mark": {"type": "text", "font": "Lato", "fontSize": 15, "angle": 350, "color": "#000000"}, "encoding": {"y": {"field": "v", "type": "quantitative", "title": "Stack temperature (°C)"}, "text": {"field": "t"}}}
              ]
            }
          ]
        },
        {
          "title": {"text": "Test C2", "orient": "left", "anchor": "middle", "font": "Liberation Serif", "fontSize": 40, "fontWeight": "normal", "color": "#000000", "offset": 34},
          "spacing": 43,
          "hconcat": [
            {
              "width": 639, "height": 394,
              "encoding": {"x": {"field": "i", "type": "quantitative", "title": "Current (A)", "scale": {"domain": [0, 25], "nice": false}, "axis": {"values": [0, 5, 10, 15, 20, 25]}}},
              "layer": [
                {"data": {"name": "ssv"}, "mark": {"type": "line", "color": "#FF0000", "strokeWidth": 4, "strokeDash": [11, 6]}, "encoding": {"y": {"field": "v", "type": "quantitative", "title": "Stack voltage (V)", "scale": {"domain": [25, 50], "nice": false, "zero": false}, "axis": {"values": [25, 30, 35, 40, 45, 50], "titleFontSize": 34}}}},
                {"data": {"name": "ssv"}, "mark": {"type": "rule", "color": "#FF0000", "strokeWidth": 4}, "encoding": {"y": {"field": "lo", "type": "quantitative", "title": "Stack voltage (V)"}, "y2": {"field": "hi"}}},
                {"data": {"name": "c2v"}, "mark": {"type": "point", "filled": true, "size": 1300, "strokeWidth": 1.4, "opacity": 1},
                  "encoding": {
                    "y": {"field": "v", "type": "quantitative", "title": "Stack voltage (V)"},
                    "shape": {"field": "s", "type": "nominal", "title": null, "scale": {"domain": ["steady state", "Ist +", "Ist -"], "range": ["M-1,-0.13H-0.12V0.13H-1ZM0.12,-0.13H1V0.13H0.12Z", "M0.25,0A0.25,0.25,0,1,1,-0.25,0A0.25,0.25,0,1,1,0.25,0Z", "M0.46,0A0.46,0.46,0,1,1,-0.46,0A0.46,0.46,0,1,1,0.46,0Z"]}},
                    "fill": {"field": "s", "type": "nominal", "title": null, "scale": {"domain": ["steady state", "Ist +", "Ist -"], "range": ["#FF0000", "#4472C4", "transparent"]}},
                    "stroke": {"field": "s", "type": "nominal", "title": null, "scale": {"domain": ["steady state", "Ist +", "Ist -"], "range": ["#FF0000", "#4472C4", "#4472C4"]}}
                  }}
              ]
            },
            {
              "width": 640, "height": 394,
              "encoding": {"x": {"field": "i", "type": "quantitative", "title": "Current (A)", "scale": {"domain": [0, 25], "nice": false}, "axis": {"values": [0, 5, 10, 15, 20, 25]}}},
              "layer": [
                {"data": {"name": "sst"}, "mark": {"type": "line", "color": "#FF0000", "strokeWidth": 4, "strokeDash": [11, 6]}, "encoding": {"y": {"field": "v", "type": "quantitative", "title": "Stack temperature (°C)", "scale": {"domain": [0, 50], "nice": false}, "axis": {"values": [0, 10, 20, 30, 40, 50], "titleFontSize": 38}}}},
                {"data": {"name": "sst"}, "mark": {"type": "rule", "color": "#FF0000", "strokeWidth": 4}, "encoding": {"y": {"field": "lo", "type": "quantitative", "title": "Stack temperature (°C)"}, "y2": {"field": "hi"}}},
                {"data": {"name": "c2t"}, "mark": {"type": "point", "filled": true, "size": 1300, "strokeWidth": 1.4, "opacity": 1},
                  "encoding": {
                    "y": {"field": "v", "type": "quantitative", "title": "Stack temperature (°C)"},
                    "shape": {"field": "s", "type": "nominal", "title": null, "scale": {"domain": ["steady state", "Ist +", "Ist -"], "range": ["M-1,-0.13H-0.12V0.13H-1ZM0.12,-0.13H1V0.13H0.12Z", "M0.25,0A0.25,0.25,0,1,1,-0.25,0A0.25,0.25,0,1,1,0.25,0Z", "M0.46,0A0.46,0.46,0,1,1,-0.46,0A0.46,0.46,0,1,1,0.46,0Z"]}},
                    "fill": {"field": "s", "type": "nominal", "title": null, "scale": {"domain": ["steady state", "Ist +", "Ist -"], "range": ["#FF0000", "#4472C4", "transparent"]}},
                    "stroke": {"field": "s", "type": "nominal", "title": null, "scale": {"domain": ["steady state", "Ist +", "Ist -"], "range": ["#FF0000", "#4472C4", "#4472C4"]}}
                  }},
                {"data": {"name": "brace2"}, "mark": {"type": "line", "color": "#595959", "strokeWidth": 1.2}, "encoding": {"y": {"field": "v", "type": "quantitative", "title": "Stack temperature (°C)"}, "order": {"field": "k", "type": "quantitative"}}},
                {"data": {"name": "note2"}, "mark": {"type": "text", "font": "Lato", "fontSize": 15, "angle": 348, "color": "#000000"}, "encoding": {"y": {"field": "v", "type": "quantitative", "title": "Stack temperature (°C)"}, "text": {"field": "t"}}}
              ]
            }
          ]
        }
      ]
    },
    {
      "title": {"text": "Test P2", "orient": "left", "anchor": "middle", "font": "Liberation Serif", "fontSize": 40, "fontWeight": "normal", "color": "#000000", "offset": 34},
      "spacing": 43,
      "hconcat": [
        {
          "width": 639, "height": 394,
          "encoding": {"x": {"field": "i", "type": "quantitative", "title": "Current (A)", "scale": {"domain": [0, 25], "nice": false}, "axis": {"values": [0, 5, 10, 15, 20, 25]}}},
          "layer": [
            {"data": {"name": "ssv"}, "mark": {"type": "line", "color": "#FF0000", "strokeWidth": 4, "strokeDash": [11, 6]}, "encoding": {"y": {"field": "v", "type": "quantitative", "title": "Stack voltage (V)", "scale": {"domain": [25, 50], "nice": false, "zero": false}, "axis": {"values": [25, 30, 35, 40, 45, 50], "titleFontSize": 34}}}},
            {"data": {"name": "ssv"}, "mark": {"type": "rule", "color": "#FF0000", "strokeWidth": 4}, "encoding": {"y": {"field": "lo", "type": "quantitative", "title": "Stack voltage (V)"}, "y2": {"field": "hi"}}},
            {"data": {"name": "p2v"}, "mark": {"type": "point", "filled": true, "size": 1300, "strokeWidth": 1.4, "opacity": 1},
              "encoding": {
                "y": {"field": "v", "type": "quantitative", "title": "Stack voltage (V)"},
                "shape": {"field": "s", "type": "nominal", "title": null, "scale": {"domain": ["steady state", "Ist +", "Ist -"], "range": ["M-1,-0.13H-0.12V0.13H-1ZM0.12,-0.13H1V0.13H0.12Z", "M0.25,0A0.25,0.25,0,1,1,-0.25,0A0.25,0.25,0,1,1,0.25,0Z", "M0.46,0A0.46,0.46,0,1,1,-0.46,0A0.46,0.46,0,1,1,0.46,0Z"]}},
                "fill": {"field": "s", "type": "nominal", "title": null, "scale": {"domain": ["steady state", "Ist +", "Ist -"], "range": ["#FF0000", "#4472C4", "transparent"]}},
                "stroke": {"field": "s", "type": "nominal", "title": null, "scale": {"domain": ["steady state", "Ist +", "Ist -"], "range": ["#FF0000", "#4472C4", "#4472C4"]}}
              }}
          ]
        },
        {
          "width": 640, "height": 394,
          "encoding": {"x": {"field": "i", "type": "quantitative", "title": "Current (A)", "scale": {"domain": [0, 25], "nice": false}, "axis": {"values": [0, 5, 10, 15, 20, 25]}}},
          "layer": [
            {"data": {"name": "sstp"}, "mark": {"type": "line", "color": "#FF0000", "strokeWidth": 4, "strokeDash": [11, 6]}, "encoding": {"y": {"field": "v", "type": "quantitative", "title": "Stack temperature (°C)", "scale": {"domain": [0, 50], "nice": false}, "axis": {"values": [0, 10, 20, 30, 40, 50], "titleFontSize": 38}}}},
            {"data": {"name": "sstp"}, "mark": {"type": "rule", "color": "#FF0000", "strokeWidth": 4}, "encoding": {"y": {"field": "lo", "type": "quantitative", "title": "Stack temperature (°C)"}, "y2": {"field": "hi"}}},
            {"data": {"name": "p2t"}, "mark": {"type": "point", "filled": true, "size": 1300, "strokeWidth": 1.4, "opacity": 1},
              "encoding": {
                "y": {"field": "v", "type": "quantitative", "title": "Stack temperature (°C)"},
                "shape": {"field": "s", "type": "nominal", "title": null, "scale": {"domain": ["steady state", "Ist +", "Ist -"], "range": ["M-1,-0.13H-0.12V0.13H-1ZM0.12,-0.13H1V0.13H0.12Z", "M0.25,0A0.25,0.25,0,1,1,-0.25,0A0.25,0.25,0,1,1,0.25,0Z", "M0.46,0A0.46,0.46,0,1,1,-0.46,0A0.46,0.46,0,1,1,0.46,0Z"]}},
                "fill": {"field": "s", "type": "nominal", "title": null, "scale": {"domain": ["steady state", "Ist +", "Ist -"], "range": ["#FF0000", "#4472C4", "transparent"]}},
                "stroke": {"field": "s", "type": "nominal", "title": null, "scale": {"domain": ["steady state", "Ist +", "Ist -"], "range": ["#FF0000", "#4472C4", "#4472C4"]}}
              }}
          ]
        }
      ]
    }
  ],
  "spacing": 50,
  "config": {
    "font": "Lato",
    "view": {"stroke": null},
    "axis": {"labelFont": "Lato", "labelFontSize": 34, "labelColor": "#595959", "titleFont": "Lato", "titleFontSize": 37, "titleFontWeight": "normal", "titleColor": "#595959", "gridColor": "#d9d9d9", "gridWidth": 1.3, "domain": false, "ticks": false, "labelOverlap": false, "labelFlush": false, "labelBound": false},
    "axisX": {"labelPadding": 36, "titlePadding": 5},
    "axisY": {"labelPadding": 37, "titlePadding": 8},
    "legend": {"orient": "none", "legendX": 286, "legendY": 1674, "direction": "horizontal", "labelFont": "Lato", "labelFontSize": 48, "labelColor": "#595959", "labelLimit": 500, "symbolSize": 1300, "symbolStrokeWidth": 1.4, "columnPadding": 58, "labelOffset": 1}
  }
}
